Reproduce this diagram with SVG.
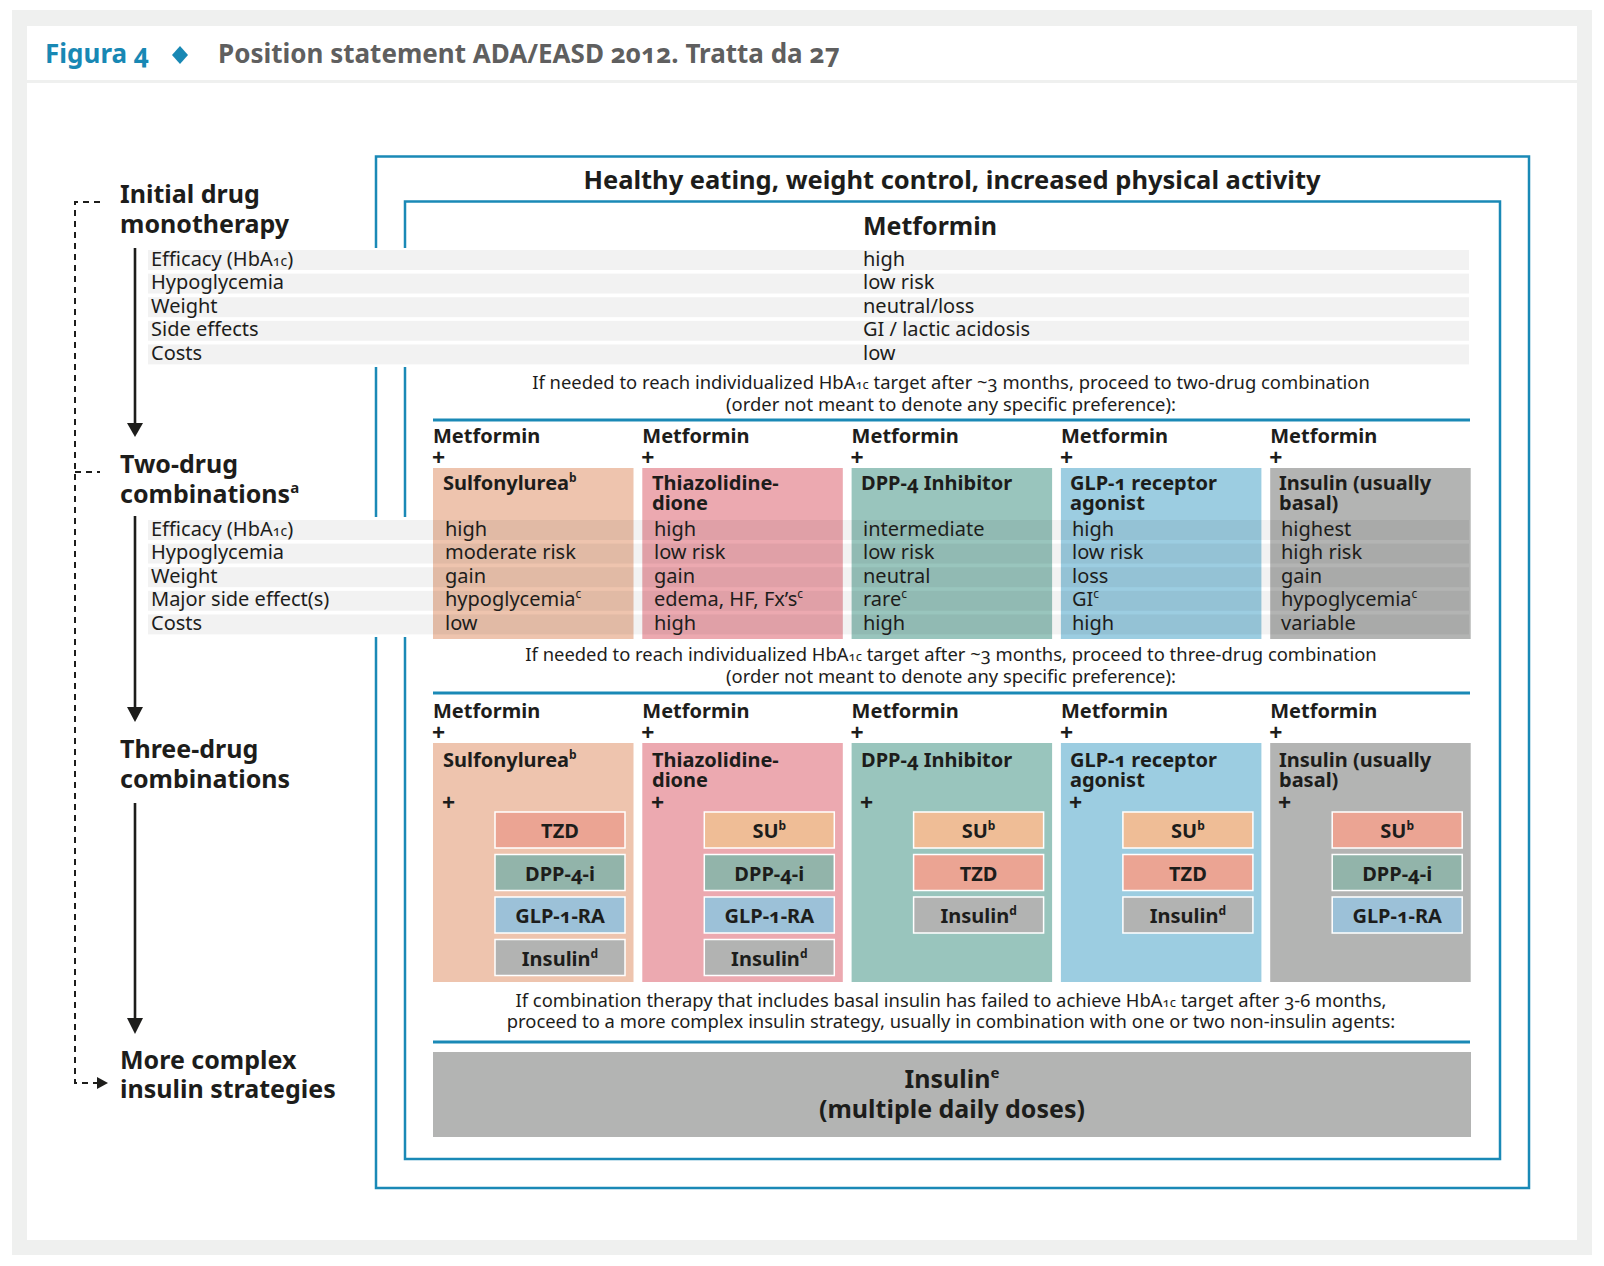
<svg xmlns="http://www.w3.org/2000/svg" width="1604" height="1266" viewBox="0 0 1604 1266">
<style>
text{font-family:"Noto Sans","DejaVu Sans",sans-serif;fill:#1d1d1b;font-variant-numeric:oldstyle-nums}
.b{font-weight:700}
.h25{font-size:25px;font-weight:700}
.h20{font-size:20px;font-weight:700}
.pl{font-size:23px;font-weight:700}
.r20{font-size:20px}
.m18{font-size:18.4px}
.c{text-anchor:middle}
.blue{fill:none;stroke:#1a89b6;stroke-width:2.5}
.sep{stroke:#1a89b6;stroke-width:3}
.band{fill:#000;fill-opacity:0.05}
.sub{stroke:#ffffff;stroke-width:1.5}
.arrow{stroke:#1d1d1b;stroke-width:2.6;fill:none}
.dash{stroke:#1d1d1b;stroke-width:2;fill:none;stroke-dasharray:6 5}
.su{fill:#eec4ae}.tzd{fill:#eca9b0}.dpp{fill:#99c5bd}.glp{fill:#9ccde1}.ins{fill:#b3b4b3}
.sSU{fill:#efbd96}.sTZD{fill:#eba493}.sDPP{fill:#92b4aa}.sGLP{fill:#9cc1d8}.sINS{fill:#b2b3b2}
</style>
<rect x="0" y="0" width="1604" height="1266" fill="#ffffff"/>
<rect x="12" y="10" width="1580" height="1245" fill="#eff0ef"/>
<rect x="27" y="26" width="1550" height="1214" fill="#ffffff"/>
<rect x="27" y="80" width="1550" height="3" fill="#eff0ef"/>
<g id="header">
<text x="45" y="63" class="b" style="font-size:26px;fill:#1888b4">Figura 4</text>
<polygon points="180,46 188,55 180,64 172,55" fill="#1888b4"/>
<text x="218" y="63" class="b" style="font-size:26px;fill:#5f5f5f">Position statement ADA/EASD 2012. Tratta da 27</text>
</g>
<g id="frames">
<rect class="blue" x="376" y="156.5" width="1153" height="1031.5"/>
<rect class="blue" x="405" y="201.5" width="1095" height="957.5"/>
<rect x="370" y="248" width="40" height="119" fill="#ffffff"/>
<rect x="370" y="517" width="40" height="120" fill="#ffffff"/>
<text x="952" y="189" class="c" style="font-size:25.5px;font-weight:700">Healthy eating, weight control, increased physical activity</text>
</g>
<g id="stage-labels">
<text class="h25"><tspan x="120" y="203">Initial drug</tspan><tspan x="120" y="233">monotherapy</tspan></text>
<text class="h25"><tspan x="120" y="473">Two-drug</tspan><tspan x="120" y="503">combinations</tspan><tspan dy="-10" font-size="15">a</tspan></text>
<text class="h25"><tspan x="120" y="758">Three-drug</tspan><tspan x="120" y="788">combinations</tspan></text>
<text class="h25"><tspan x="120" y="1069">More complex</tspan><tspan x="120" y="1098">insulin strategies</tspan></text>
</g>
<g id="metformin-mono">
<text x="863" y="235" class="h25">Metformin</text>
<rect class="band" x="148" y="250" width="1321" height="20"/>
<rect class="band" x="148" y="273.6" width="1321" height="20"/>
<rect class="band" x="148" y="297.2" width="1321" height="20"/>
<rect class="band" x="148" y="320.8" width="1321" height="20"/>
<rect class="band" x="148" y="344.4" width="1321" height="20"/>
<text class="r20"><tspan x="151" y="265.5">Efficacy (HbA</tspan><tspan font-size="14">1c</tspan><tspan>)</tspan><tspan x="151" y="289.1">Hypoglycemia</tspan><tspan x="151" y="312.7">Weight</tspan><tspan x="151" y="336.3">Side effects</tspan><tspan x="151" y="359.9">Costs</tspan></text>
<text class="r20"><tspan x="863" y="265.5">high</tspan><tspan x="863" y="289.1">low risk</tspan><tspan x="863" y="312.7">neutral/loss</tspan><tspan x="863" y="336.3">GI / lactic acidosis</tspan><tspan x="863" y="359.9">low</tspan></text>
</g>
<g id="note-1">
<text class="m18 c"><tspan x="951" y="389">If needed to reach individualized HbA<tspan font-size="13">1c</tspan> target after ~3 months, proceed to two-drug combination</tspan><tspan x="951" y="411">(order not meant to denote any specific preference):</tspan></text>
<line class="sep" x1="433" y1="420" x2="1470" y2="420"/>
</g>
<g id="two-drug">
<g id="two-su">
<text class="h20"><tspan x="433" y="443">Metformin</tspan><tspan x="432" y="466" class="pl">+</tspan></text>
<rect class="su" x="433" y="468" width="200.5" height="171"/>
<text x="443" y="490" class="h20">Sulfonylurea<tspan dy="-8" font-size="12">b</tspan></text>
</g>
<g id="two-tzd">
<text class="h20"><tspan x="642.3" y="443">Metformin</tspan><tspan x="641.3" y="466" class="pl">+</tspan></text>
<rect class="tzd" x="642.3" y="468" width="200.5" height="171"/>
<text class="h20"><tspan x="652" y="490">Thiazolidine-</tspan><tspan x="652" y="510">dione</tspan></text>
</g>
<g id="two-dpp">
<text class="h20"><tspan x="851.6" y="443">Metformin</tspan><tspan x="850.6" y="466" class="pl">+</tspan></text>
<rect class="dpp" x="851.6" y="468" width="200.5" height="171"/>
<text x="861" y="490" class="h20">DPP-4 Inhibitor</text>
</g>
<g id="two-glp">
<text class="h20"><tspan x="1060.9" y="443">Metformin</tspan><tspan x="1059.9" y="466" class="pl">+</tspan></text>
<rect class="glp" x="1060.9" y="468" width="200.5" height="171"/>
<text class="h20"><tspan x="1070" y="490">GLP-1 receptor</tspan><tspan x="1070" y="510">agonist</tspan></text>
</g>
<g id="two-ins">
<text class="h20"><tspan x="1270.2" y="443">Metformin</tspan><tspan x="1269.2" y="466" class="pl">+</tspan></text>
<rect class="ins" x="1270.2" y="468" width="200.5" height="171"/>
<text class="h20"><tspan x="1279" y="490">Insulin (usually</tspan><tspan x="1279" y="510">basal)</tspan></text>
</g>
<rect class="band" x="148" y="520" width="1321" height="20"/>
<rect class="band" x="148" y="543.6" width="1321" height="20"/>
<rect class="band" x="148" y="567.2" width="1321" height="20"/>
<rect class="band" x="148" y="590.8" width="1321" height="20"/>
<rect class="band" x="148" y="614.4" width="1321" height="20"/>
<text class="r20"><tspan x="151" y="535.5">Efficacy (HbA</tspan><tspan font-size="14">1c</tspan><tspan>)</tspan><tspan x="151" y="559.1">Hypoglycemia</tspan><tspan x="151" y="582.7">Weight</tspan><tspan x="151" y="606.3">Major side effect(s)</tspan><tspan x="151" y="629.9">Costs</tspan></text>
<text class="r20"><tspan x="445" y="535.5">high</tspan><tspan x="445" y="559.1">moderate risk</tspan><tspan x="445" y="582.7">gain</tspan><tspan x="445" y="606.3">hypoglycemia</tspan><tspan dy="-8" font-size="12">c</tspan><tspan x="445" y="629.9">low</tspan></text>
<text class="r20"><tspan x="654" y="535.5">high</tspan><tspan x="654" y="559.1">low risk</tspan><tspan x="654" y="582.7">gain</tspan><tspan x="654" y="606.3">edema, HF, Fx’s</tspan><tspan dy="-8" font-size="12">c</tspan><tspan x="654" y="629.9">high</tspan></text>
<text class="r20"><tspan x="863" y="535.5">intermediate</tspan><tspan x="863" y="559.1">low risk</tspan><tspan x="863" y="582.7">neutral</tspan><tspan x="863" y="606.3">rare</tspan><tspan dy="-8" font-size="12">c</tspan><tspan x="863" y="629.9">high</tspan></text>
<text class="r20"><tspan x="1072" y="535.5">high</tspan><tspan x="1072" y="559.1">low risk</tspan><tspan x="1072" y="582.7">loss</tspan><tspan x="1072" y="606.3">GI</tspan><tspan dy="-8" font-size="12">c</tspan><tspan x="1072" y="629.9">high</tspan></text>
<text class="r20"><tspan x="1281" y="535.5">highest</tspan><tspan x="1281" y="559.1">high risk</tspan><tspan x="1281" y="582.7">gain</tspan><tspan x="1281" y="606.3">hypoglycemia</tspan><tspan dy="-8" font-size="12">c</tspan><tspan x="1281" y="629.9">variable</tspan></text>
</g>
<g id="note-2">
<text class="m18 c"><tspan x="951" y="661">If needed to reach individualized HbA<tspan font-size="13">1c</tspan> target after ~3 months, proceed to three-drug combination</tspan><tspan x="951" y="683">(order not meant to denote any specific preference):</tspan></text>
<line class="sep" x1="433" y1="693" x2="1470" y2="693"/>
</g>
<g id="three-drug">
<g id="three-su">
<text class="h20"><tspan x="433" y="718">Metformin</tspan><tspan x="432" y="741" class="pl">+</tspan></text>
<rect class="su" x="433" y="743" width="200.5" height="239"/>
<text class="h20"><tspan x="443" y="767">Sulfonylurea</tspan><tspan dy="-8" font-size="12">b</tspan><tspan x="442" y="811" class="pl">+</tspan></text>
<rect class="sub sTZD" x="495" y="812" width="130" height="36"/><text x="560" y="838" class="h20 c">TZD</text>
<rect class="sub sDPP" x="495" y="854.5" width="130" height="36"/><text x="560" y="880.5" class="h20 c">DPP-4-i</text>
<rect class="sub sGLP" x="495" y="897" width="130" height="36"/><text x="560" y="923" class="h20 c">GLP-1-RA</text>
<rect class="sub sINS" x="495" y="939.5" width="130" height="36"/><text x="560" y="965.5" class="h20 c">Insulin<tspan dy="-8" font-size="12">d</tspan></text>
</g>
<g id="three-tzd">
<text class="h20"><tspan x="642.3" y="718">Metformin</tspan><tspan x="641.3" y="741" class="pl">+</tspan></text>
<rect class="tzd" x="642.3" y="743" width="200.5" height="239"/>
<text class="h20"><tspan x="652" y="767">Thiazolidine-</tspan><tspan x="652" y="787">dione</tspan><tspan x="651" y="811" class="pl">+</tspan></text>
<rect class="sub sSU" x="704.3" y="812" width="130" height="36"/><text x="769.3" y="838" class="h20 c">SU<tspan dy="-8" font-size="12">b</tspan></text>
<rect class="sub sDPP" x="704.3" y="854.5" width="130" height="36"/><text x="769.3" y="880.5" class="h20 c">DPP-4-i</text>
<rect class="sub sGLP" x="704.3" y="897" width="130" height="36"/><text x="769.3" y="923" class="h20 c">GLP-1-RA</text>
<rect class="sub sINS" x="704.3" y="939.5" width="130" height="36"/><text x="769.3" y="965.5" class="h20 c">Insulin<tspan dy="-8" font-size="12">d</tspan></text>
</g>
<g id="three-dpp">
<text class="h20"><tspan x="851.6" y="718">Metformin</tspan><tspan x="850.6" y="741" class="pl">+</tspan></text>
<rect class="dpp" x="851.6" y="743" width="200.5" height="239"/>
<text class="h20"><tspan x="861" y="767">DPP-4 Inhibitor</tspan><tspan x="860" y="811" class="pl">+</tspan></text>
<rect class="sub sSU" x="913.6" y="812" width="130" height="36"/><text x="978.6" y="838" class="h20 c">SU<tspan dy="-8" font-size="12">b</tspan></text>
<rect class="sub sTZD" x="913.6" y="854.5" width="130" height="36"/><text x="978.6" y="880.5" class="h20 c">TZD</text>
<rect class="sub sINS" x="913.6" y="897" width="130" height="36"/><text x="978.6" y="923" class="h20 c">Insulin<tspan dy="-8" font-size="12">d</tspan></text>
</g>
<g id="three-glp">
<text class="h20"><tspan x="1060.9" y="718">Metformin</tspan><tspan x="1059.9" y="741" class="pl">+</tspan></text>
<rect class="glp" x="1060.9" y="743" width="200.5" height="239"/>
<text class="h20"><tspan x="1070" y="767">GLP-1 receptor</tspan><tspan x="1070" y="787">agonist</tspan><tspan x="1069" y="811" class="pl">+</tspan></text>
<rect class="sub sSU" x="1122.9" y="812" width="130" height="36"/><text x="1187.9" y="838" class="h20 c">SU<tspan dy="-8" font-size="12">b</tspan></text>
<rect class="sub sTZD" x="1122.9" y="854.5" width="130" height="36"/><text x="1187.9" y="880.5" class="h20 c">TZD</text>
<rect class="sub sINS" x="1122.9" y="897" width="130" height="36"/><text x="1187.9" y="923" class="h20 c">Insulin<tspan dy="-8" font-size="12">d</tspan></text>
</g>
<g id="three-ins">
<text class="h20"><tspan x="1270.2" y="718">Metformin</tspan><tspan x="1269.2" y="741" class="pl">+</tspan></text>
<rect class="ins" x="1270.2" y="743" width="200.5" height="239"/>
<text class="h20"><tspan x="1279" y="767">Insulin (usually</tspan><tspan x="1279" y="787">basal)</tspan><tspan x="1278" y="811" class="pl">+</tspan></text>
<rect class="sub sTZD" x="1332.2" y="812" width="130" height="36"/><text x="1397.2" y="838" class="h20 c">SU<tspan dy="-8" font-size="12">b</tspan></text>
<rect class="sub sDPP" x="1332.2" y="854.5" width="130" height="36"/><text x="1397.2" y="880.5" class="h20 c">DPP-4-i</text>
<rect class="sub sGLP" x="1332.2" y="897" width="130" height="36"/><text x="1397.2" y="923" class="h20 c">GLP-1-RA</text>
</g>
</g>
<g id="note-3">
<text class="m18 c"><tspan x="951" y="1007">If combination therapy that includes basal insulin has failed to achieve HbA<tspan font-size="13">1c</tspan> target after 3-6 months,</tspan><tspan x="951" y="1028">proceed to a more complex insulin strategy, usually in combination with one or two non-insulin agents:</tspan></text>
<line class="sep" x1="433" y1="1042" x2="1470" y2="1042"/>
</g>
<g id="insulin-multiple">
<rect class="ins" x="433" y="1052" width="1038" height="85"/>
<text class="h25 c"><tspan x="952" y="1088">Insulin<tspan dy="-10" font-size="15">e</tspan></tspan><tspan x="952" y="1118">(multiple daily doses)</tspan></text>
</g>
<g id="connectors">
<line class="arrow" x1="135" y1="248" x2="135" y2="425"/>
<polygon points="127,423 143,423 135,437" fill="#1d1d1b"/>
<line class="arrow" x1="135" y1="516" x2="135" y2="709"/>
<polygon points="127,707 143,707 135,722" fill="#1d1d1b"/>
<line class="arrow" x1="135" y1="803" x2="135" y2="1020"/>
<polygon points="127,1018 143,1018 135,1034" fill="#1d1d1b"/>
<path class="dash" d="M100,202 H75 V1083 H97"/>
<path class="dash" d="M75,472 H100"/>
<polygon points="97,1077 108,1083 97,1089" fill="#1d1d1b"/>
</g>
</svg>
